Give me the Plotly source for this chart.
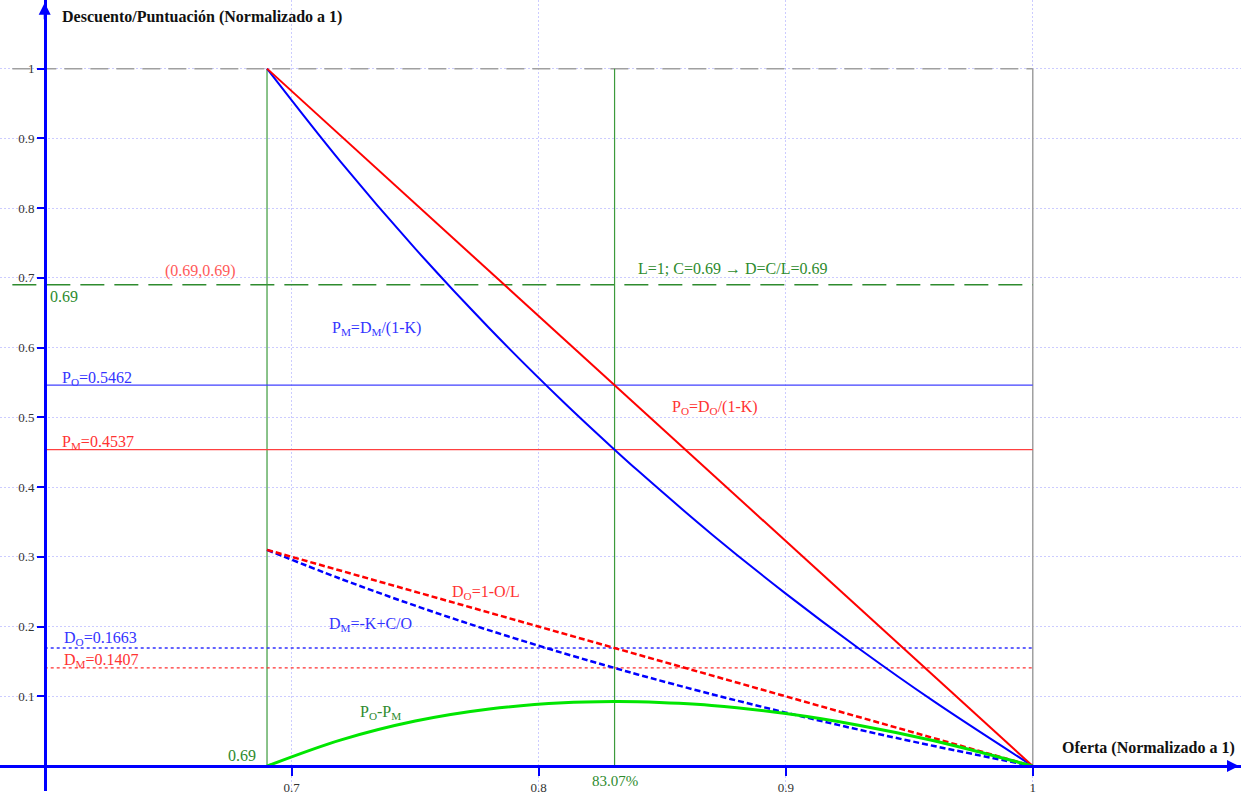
import plotly.graph_objects as go

# ---- data ----
oferta = [0.69, 0.72, 0.75, 0.78, 0.81, 0.8307, 0.84, 0.87, 0.90, 0.93, 0.96, 1.0]
p_o = [1.0, 0.9032, 0.8065, 0.7097, 0.6129, 0.5462, 0.5161, 0.4194, 0.3226, 0.2258, 0.1290, 0.0]
p_m = [1.0, 0.8656, 0.7419, 0.6278, 0.5221, 0.4537, 0.4240, 0.3325, 0.2473, 0.1675, 0.0927, 0.0]
d_o = [0.31, 0.28, 0.25, 0.22, 0.19, 0.1693, 0.16, 0.13, 0.10, 0.07, 0.04, 0.0]
d_m = [0.31, 0.2683, 0.23, 0.1946, 0.1619, 0.1407, 0.1314, 0.1031, 0.0767, 0.0519, 0.0288, 0.0]
p_diff = [0.0, 0.0376, 0.0646, 0.0819, 0.0908, 0.0925, 0.0921, 0.0869, 0.0753, 0.0583, 0.0363, 0.0]

c_level = 0.69          # L=1; C=0.69 -> D=0.69
o_opt = 0.8307          # 83.07%
o_min = 0.69
o_max = 1.0
axis_x0 = 0.6
po_level = 0.5462
pm_level = 0.4537
do_level = 0.1693
dm_level = 0.1407

x_ticks = [0.7, 0.8, 0.9, 1.0]
x_ticktext = ["0.7", "0.8", "0.9", "1"]
y_ticks = [0.1, 0.2, 0.3, 0.4, 0.5, 0.6, 0.7, 0.8, 0.9, 1.0]
y_ticktext = ["0.1", "0.2", "0.3", "0.4", "0.5", "0.6", "0.7", "0.8", "0.9", "1"]

X0, X1 = 0.5819, 1.0843
Y0, Y1 = -0.0357, 1.0984

SERIF = "Liberation Serif"
RED = "#ff0000"
BLUE = "#0000ff"
GREEN_DK = "#2e8b2e"
LIME = "#00e600"

fig = go.Figure()

def hline(y, xa, xb, color, width, dash="solid"):
    fig.add_trace(go.Scatter(x=[xa, xb], y=[y, y], mode="lines",
                             line=dict(color=color, width=width, dash=dash),
                             hoverinfo="skip", showlegend=False))

def vline(x, ya, yb, color, width, dash="solid"):
    fig.add_trace(go.Scatter(x=[x, x], y=[ya, yb], mode="lines",
                             line=dict(color=color, width=width, dash=dash),
                             hoverinfo="skip", showlegend=False))

# reference lines
hline(1.0, X0 + 0.005, o_max, "#a0a0a0", 1.5, "18px,8px")
vline(o_max, 0, 1.0, "#a0a0a0", 1.5)
hline(c_level, X0 + 0.005, o_max, "#2e8b2e", 1.5, "24px,10px")
vline(o_min, 0, 1.0, "#3c9a3c", 1.2)
vline(o_opt, 0, 1.0, "#3c9a3c", 1.2)
hline(po_level, axis_x0, o_max, "#4040ff", 1.2)
hline(pm_level, axis_x0, o_max, "#ff4040", 1.2)
hline(do_level, axis_x0, o_max, "#3030ff", 1.3, "3px,3px")
hline(dm_level, axis_x0, o_max, "#ff3030", 1.3, "3px,3px")

# curves
fig.add_trace(go.Scatter(x=oferta, y=d_m, mode="lines",
                         line=dict(color=BLUE, width=2.5, dash="6px,3px", shape="spline"),
                         showlegend=False, hoverinfo="skip"))
fig.add_trace(go.Scatter(x=oferta, y=d_o, mode="lines",
                         line=dict(color=RED, width=2.5, dash="6px,3px"),
                         showlegend=False, hoverinfo="skip"))
fig.add_trace(go.Scatter(x=oferta, y=p_m, mode="lines", line=dict(color=BLUE, width=2, shape="spline"),
                         showlegend=False, hoverinfo="skip"))
fig.add_trace(go.Scatter(x=oferta, y=p_o, mode="lines", line=dict(color=RED, width=2),
                         showlegend=False, hoverinfo="skip"))
fig.add_trace(go.Scatter(x=oferta, y=p_diff, mode="lines", line=dict(color=LIME, width=3, shape="spline"),
                         showlegend=False, hoverinfo="skip"))

def label(x, y, text, color, size=16, bold=False, xanchor="left"):
    fig.add_annotation(x=x, y=y, text=("<b>%s</b>" % text) if bold else text, showarrow=False,
                       xanchor=xanchor, yanchor="middle",
                       font=dict(family=SERIF, size=size, color=color))

label(0.6062, 1.0742, "Descuento/Puntuación (Normalizado a 1)", "#111111", 16, True)
label(1.0110, 0.0257, "Oferta (Normalizado a 1)", "#111111", 16, True)
label(0.6479, 0.7104, "(0.69,0.69)", "#ff5a5a")
label(0.6013, 0.6733, "0.69", GREEN_DK)
label(0.8394, 0.7133, "L=1; C=0.69 → D=C/L=0.69", GREEN_DK)
label(0.7155, 0.6277, "P<sub>M</sub>=D<sub>M</sub>/(1-K)", "#3333ff")
label(0.6062, 0.5563, "P<sub>O</sub>=0.5462", "#3333ff")
label(0.6062, 0.4636, "P<sub>M</sub>=0.4537", "#ff3333")
label(0.8532, 0.5136, "P<sub>O</sub>=D<sub>O</sub>/(1-K)", "#ff3333")
label(0.7641, 0.2482, "D<sub>O</sub>=1-O/L", "#ff3333")
label(0.7143, 0.2026, "D<sub>M</sub>=-K+C/O", "#3333ff")
label(0.6070, 0.1826, "D<sub>O</sub>=0.1663", "#3333ff")
label(0.6070, 0.1512, "D<sub>M</sub>=0.1407", "#ff3333")
label(0.7268, 0.0770, "P<sub>O</sub>-P<sub>M</sub>", GREEN_DK)
label(0.6734, 0.0157, "0.69", GREEN_DK)
label(o_opt, -0.0214, "83.07%", GREEN_DK, 15, xanchor="center")

# axis arrows
fig.add_annotation(x=X1 - 0.0008, y=0, ax=-18, ay=0, text="", showarrow=True, arrowhead=2,
                   arrowsize=1.2, arrowwidth=2, arrowcolor=BLUE)
fig.add_annotation(x=axis_x0, y=Y1 - 0.004, ax=0, ay=18, text="", showarrow=True, arrowhead=2,
                   arrowsize=1.2, arrowwidth=2, arrowcolor=BLUE)

grid_col = "rgba(170,170,255,0.6)"
fig.update_layout(
    width=1241, height=795, autosize=False,
    margin=dict(l=0, r=0, t=0, b=0, pad=0),
    paper_bgcolor="white", plot_bgcolor="white",
    xaxis=dict(range=[X0, X1], tickvals=x_ticks, ticktext=x_ticktext,
               showgrid=True, gridcolor=grid_col, griddash="2px,2px", gridwidth=1,
               zeroline=False, showline=True, linecolor=BLUE, linewidth=3,
               anchor="free", position=25 / 795, ticks="outside", ticklen=8,
               tickcolor=BLUE, tickwidth=2,
               tickfont=dict(family=SERIF, size=13, color="#333333")),
    yaxis=dict(range=[Y0, Y1], tickvals=y_ticks, ticktext=y_ticktext,
               showgrid=True, gridcolor=grid_col, griddash="2px,2px", gridwidth=1,
               zeroline=False, showline=True, linecolor=BLUE, linewidth=3,
               anchor="free", position=45 / 1241, ticks="outside", ticklen=7,
               tickcolor=BLUE, tickwidth=2,
               tickfont=dict(family=SERIF, size=13, color="#333333")),
)

fig.write_html("out.html", config={"displayModeBar": False},
               post_script="document.body.style.margin='0';")
